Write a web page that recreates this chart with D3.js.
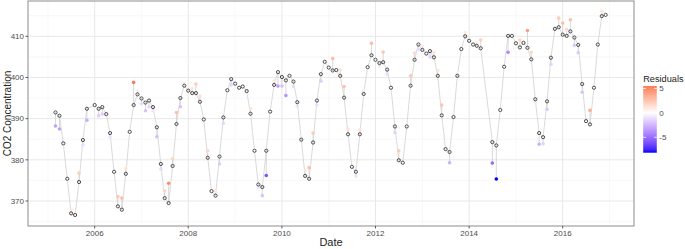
<!DOCTYPE html>
<html><head><meta charset="utf-8">
<script src="https://cdn.jsdelivr.net/npm/d3@7"></script>
<style>body{margin:0;background:#fff}svg{display:block;font-family:Arial,"Liberation Sans",sans-serif}</style>
</head><body><svg id="c" width="685" height="249"></svg>
<script>
const months = [
"2005-03","2005-04","2005-05","2005-06","2005-07","2005-08","2005-09","2005-10","2005-11",
"2006-01","2006-02","2006-03","2006-04","2006-05","2006-06","2006-07","2006-08","2006-09","2006-10","2006-11","2006-12",
"2007-01","2007-02","2007-03","2007-04","2007-05","2007-06","2007-07","2007-08","2007-09","2007-10","2007-11","2007-12",
"2008-01","2008-02","2008-03","2008-04","2008-05","2008-06","2008-07","2008-08","2008-09","2008-10","2008-11","2008-12",
"2009-01","2009-02","2009-03","2009-04","2009-05","2009-06","2009-07","2009-08","2009-09","2009-10","2009-11","2009-12",
"2010-01","2010-02","2010-03","2010-04","2010-05","2010-06","2010-07","2010-08","2010-09","2010-10","2010-11","2010-12",
"2011-01","2011-02","2011-03","2011-04","2011-05","2011-06","2011-07","2011-08","2011-09","2011-10","2011-11","2011-12",
"2012-01","2012-02","2012-03","2012-04","2012-05","2012-06","2012-07","2012-08","2012-09","2012-10","2012-11","2012-12",
"2013-01","2013-02","2013-03","2013-04","2013-05","2013-06","2013-07","2013-08","2013-09","2013-10","2013-11","2013-12",
"2014-01","2014-02","2014-03","2014-04","2014-07","2014-08","2014-09","2014-10","2014-11","2014-12",
"2015-01","2015-02","2015-03","2015-04","2015-05","2015-06","2015-07","2015-08","2015-09","2015-10","2015-11","2015-12",
"2016-01","2016-02","2016-03","2016-04","2016-05","2016-06","2016-07","2016-08","2016-09","2016-10","2016-11","2016-12"
];
const predicted = [
391.5,390.7,384.0,375.4,367.0,366.6,374.6,384.8,392.4,
393.3,392.4,392.8,391.1,386.5,377.1,368.7,367.9,376.6,386.8,393.3,395.9,
394.9,393.9,394.4,392.8,387.9,379.0,370.7,369.5,378.5,388.7,395.0,398.0,
396.8,396.2,396.2,394.1,389.8,380.5,372.4,371.3,380.8,390.3,396.9,399.6,
398.5,397.5,397.8,396.7,391.2,382.2,374.0,373.4,382.2,391.7,398.2,401.3,
400.1,399.3,400.4,399.0,394.0,384.9,376.1,375.4,384.2,394.4,400.8,403.8,
402.4,401.7,401.8,400.4,395.1,386.2,378.3,377.1,386.2,396.0,402.5,405.4,
404.3,403.5,403.7,401.9,397.5,388.1,379.9,379.3,388.1,398.0,404.3,408.0,
406.7,405.8,406.4,404.9,400.4,390.8,382.6,381.9,390.4,400.4,406.9,410.0,
408.9,408.0,407.7,407.1,384.3,383.5,392.1,402.6,410.1,410.1,
408.3,407.3,408.4,407.2,404.4,394.7,386.5,385.5,394.2,404.8,411.8,412.2,
410.4,410.1,411.2,409.7,407.9,398.4,389.4,388.6,397.5,408.0,414.9,415.2
];
const observed = [
388.2,387.5,383.6,375.2,367.9,366.9,376.8,383.6,389.6,
393.1,390.7,391.1,390.8,385.5,377.0,371.1,370.7,377.9,386.7,398.8,396.7,
393.6,391.9,392.9,391.9,385.6,377.7,372.5,374.3,380.3,391.5,392.9,398.7,
397.5,397.3,398.4,395.5,389.6,382.2,372.6,372.4,379.0,388.9,396.8,398.2,
398.3,397.6,397.9,396.2,392.4,382.4,373.3,371.3,376.2,391.5,399.2,397.9,
397.9,395.6,400.2,397.8,393.0,385.6,377.3,378.1,386.5,393.3,399.1,403.6,
402.2,404.6,401.9,401.8,397.8,387.5,378.4,376.1,387.3,396.8,402.3,408.3,
404.4,402.8,406.2,400.8,397.3,386.6,382.2,379.2,388.3,400.4,405.9,406.8,
407.6,405.6,405.0,406.1,401.7,393.3,382.3,379.3,390.6,401.0,407.0,410.9,
408.6,407.9,408.5,409.1,379.2,375.35,392.0,402.5,406.1,410.0,
408.1,409.1,408.6,411.4,406.1,394.0,383.8,383.9,392.3,403.2,412.3,414.4,
413.2,411.7,414.0,407.8,406.0,396.4,389.2,392.0,397.3,407.5,416.1,415.2
];
const yTicks = [370,380,390,400,410];
const yMinor = [365,375,385,395,405,415];
const xTickYears = [2006,2008,2010,2012,2014,2016];
const xMinorYears = [2005,2007,2009,2011,2013,2015,2017];
const legendTicks = [5,0,-5];

const parse = d3.timeParse("%Y-%m");
const data = months.map((m,i)=>({date:parse(m),pred:predicted[i],obs:observed[i],res:observed[i]-predicted[i]}));

const svg = d3.select("#c");
const L=28,R=634,T=1,B=226;

const x = d3.scaleTime().domain([new Date(2006,0,1),new Date(2016,0,1)]).range([94.7,562.7]);
x.domain([x.invert(L),x.invert(R)]).range([L,R]);
const y = d3.scaleLinear().domain([363.93,418.57]).range([B,T]);

const ext = d3.extent(data,d=>d.res);
const M = Math.max(Math.abs(ext[0]),Math.abs(ext[1]));
const lowI = d3.interpolateLab("blue","white"), highI = d3.interpolateLab("white","red");
const color = r => { const t = 0.5 + r/(2*M); return t<0.5 ? lowI(t*2) : highI((t-0.5)*2); };

// grid
const g = svg.append("g");
g.selectAll(".ymin").data(yMinor).join("line").attr("x1",L).attr("x2",R).attr("y1",d=>y(d)).attr("y2",d=>y(d)).attr("stroke","#f3f3f3").attr("stroke-width",0.6);
g.selectAll(".xmin").data(xMinorYears).join("line").attr("x1",d=>x(new Date(d,0,1))).attr("x2",d=>x(new Date(d,0,1))).attr("y1",T).attr("y2",B).attr("stroke","#f3f3f3").attr("stroke-width",0.6);
g.selectAll(".ymaj").data(yTicks).join("line").attr("x1",L).attr("x2",R).attr("y1",d=>y(d)).attr("y2",d=>y(d)).attr("stroke","#e8e8e8").attr("stroke-width",1);
g.selectAll(".xmaj").data(xTickYears).join("line").attr("x1",d=>x(new Date(d,0,1))).attr("x2",d=>x(new Date(d,0,1))).attr("y1",T).attr("y2",B).attr("stroke","#e8e8e8").attr("stroke-width",1);

// residual segments
svg.append("g").selectAll("line").data(data).join("line")
  .attr("x1",d=>x(d.date)).attr("x2",d=>x(d.date)).attr("y1",d=>y(d.obs)).attr("y2",d=>y(d.pred))
  .attr("stroke","#cfcfcf").attr("stroke-width",0.8);
// predicted line
svg.append("path").datum(data).attr("fill","none").attr("stroke","#d6d6d6").attr("stroke-width",0.9)
  .attr("d",d3.line().x(d=>x(d.date)).y(d=>y(d.pred)));
// observed points
svg.append("g").selectAll("circle").data(data).join("circle")
  .attr("cx",d=>x(d.date)).attr("cy",d=>y(d.obs)).attr("r",1.8).attr("fill",d=>color(d.res));
// predicted circles
svg.append("g").selectAll("circle").data(data).join("circle")
  .attr("cx",d=>x(d.date)).attr("cy",d=>y(d.pred)).attr("r",1.6).attr("fill","none").attr("stroke","#333").attr("stroke-width",0.85);

// border
svg.append("rect").attr("x",L).attr("y",T).attr("width",R-L).attr("height",B-T).attr("fill","none").attr("stroke","#8c8c8c").attr("stroke-width",1);

// axes
const ya = svg.append("g");
ya.selectAll("line").data(yTicks).join("line").attr("x1",L-2.5).attr("x2",L).attr("y1",d=>y(d)).attr("y2",d=>y(d)).attr("stroke","#333").attr("stroke-width",0.8);
ya.selectAll("text").data(yTicks).join("text").attr("x",L-4).attr("y",d=>y(d)).attr("dy","0.35em").attr("text-anchor","end")
  .attr("font-size",8).attr("fill","#4d4d4d").text(d=>d);
const xa = svg.append("g");
xa.selectAll("line").data(xTickYears).join("line").attr("x1",d=>x(new Date(d,0,1))).attr("x2",d=>x(new Date(d,0,1))).attr("y1",B).attr("y2",B+2.5).attr("stroke","#333").attr("stroke-width",0.8);
xa.selectAll("text").data(xTickYears).join("text").attr("x",d=>x(new Date(d,0,1))).attr("y",B+10).attr("text-anchor","middle")
  .attr("font-size",8).attr("fill","#4d4d4d").text(d=>d);

svg.append("text").attr("x",(L+R)/2).attr("y",246).attr("text-anchor","middle").attr("font-size",11).attr("fill","#222").text("Date");
svg.append("text").attr("transform",`translate(11,${(T+B)/2}) rotate(-90)`).attr("text-anchor","middle").attr("font-size",10).attr("fill","#222").text("CO2 Concentration");

// legend
const lx=643.2, lw=13.6, ly = d3.scaleLinear().domain([ext[0],ext[1]]).range([152.7,86]);
const defs = svg.append("defs");
const grad = defs.append("linearGradient").attr("id","lg").attr("x1",0).attr("x2",0).attr("y1",1).attr("y2",0);
d3.range(0,21).forEach(i=>{const r = ext[0]+(ext[1]-ext[0])*i/20; grad.append("stop").attr("offset",i/20).attr("stop-color",color(r));});
svg.append("text").attr("x",lx).attr("y",82).attr("font-size",9.2).attr("fill","#222").text("Residuals");
svg.append("rect").attr("x",lx).attr("y",ly(ext[1])).attr("width",lw).attr("height",ly(ext[0])-ly(ext[1])).attr("fill","url(#lg)");
const lt = svg.append("g");
lt.selectAll(".a").data(legendTicks).join("line").attr("x1",lx).attr("x2",lx+2.7).attr("y1",d=>ly(d)).attr("y2",d=>ly(d)).attr("stroke","#fff").attr("stroke-width",0.8);
lt.selectAll(".b").data(legendTicks).join("line").attr("x1",lx+lw-2.7).attr("x2",lx+lw).attr("y1",d=>ly(d)).attr("y2",d=>ly(d)).attr("stroke","#fff").attr("stroke-width",0.8);
lt.selectAll("text").data(legendTicks).join("text").attr("x",lx+lw+2.5).attr("y",d=>ly(d)).attr("dy","0.35em").attr("font-size",8).attr("fill","#4d4d4d").text(d=>d);
</script></body></html>
